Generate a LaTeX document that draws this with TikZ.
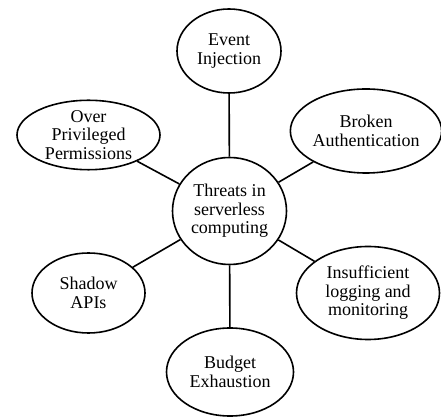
\documentclass[tikz,border=0pt]{standalone}
\usepackage{fontspec}
\setmainfont{Liberation Serif}
\usetikzlibrary{shapes.geometric}

\begin{document}
\begin{tikzpicture}[x=1pt,y=1pt,
    threat/.style={draw,ellipse,line width=1.6pt,inner sep=0pt,align=center,
      font=\fontsize{18}{18.5}\selectfont},
    link/.style={line width=1.6pt}]

    \useasboundingbox (0,0) rectangle (441,417);

    \node[threat,minimum width=114,minimum height=107] (T) at (229.5,206) {Threats in\\serverless\\computing};

    \node[threat,minimum width=104,minimum height=84] (EI) at (229,366) {Event\\Injection};
    \node[threat,minimum width=148,minimum height=84] (BA) at (366,286) {Broken\\Authentication};
    \node[threat,minimum width=143,minimum height=93] (IL) at (368,124) {Insufficient\\logging and\\monitoring};
    \node[threat,minimum width=127,minimum height=88] (BE) at (230,45) {Budget\\Exhaustion};
    \node[threat,minimum width=113,minimum height=80] (SA) at (88.5,124) {Shadow\\APIs};
    \node[threat,minimum width=143,minimum height=66] (OP) at (88.5,282) {Over\\Privileged\\Permissions};

    \path (T) edge[link] (EI);
    \path (T) edge[link] (BA);
    \path (T) edge[link] (IL);
    \path (T) edge[link] (BE);
    \path (T) edge[link] (SA);
    \path (T) edge[link] (OP);

\end{tikzpicture}
\end{document}
